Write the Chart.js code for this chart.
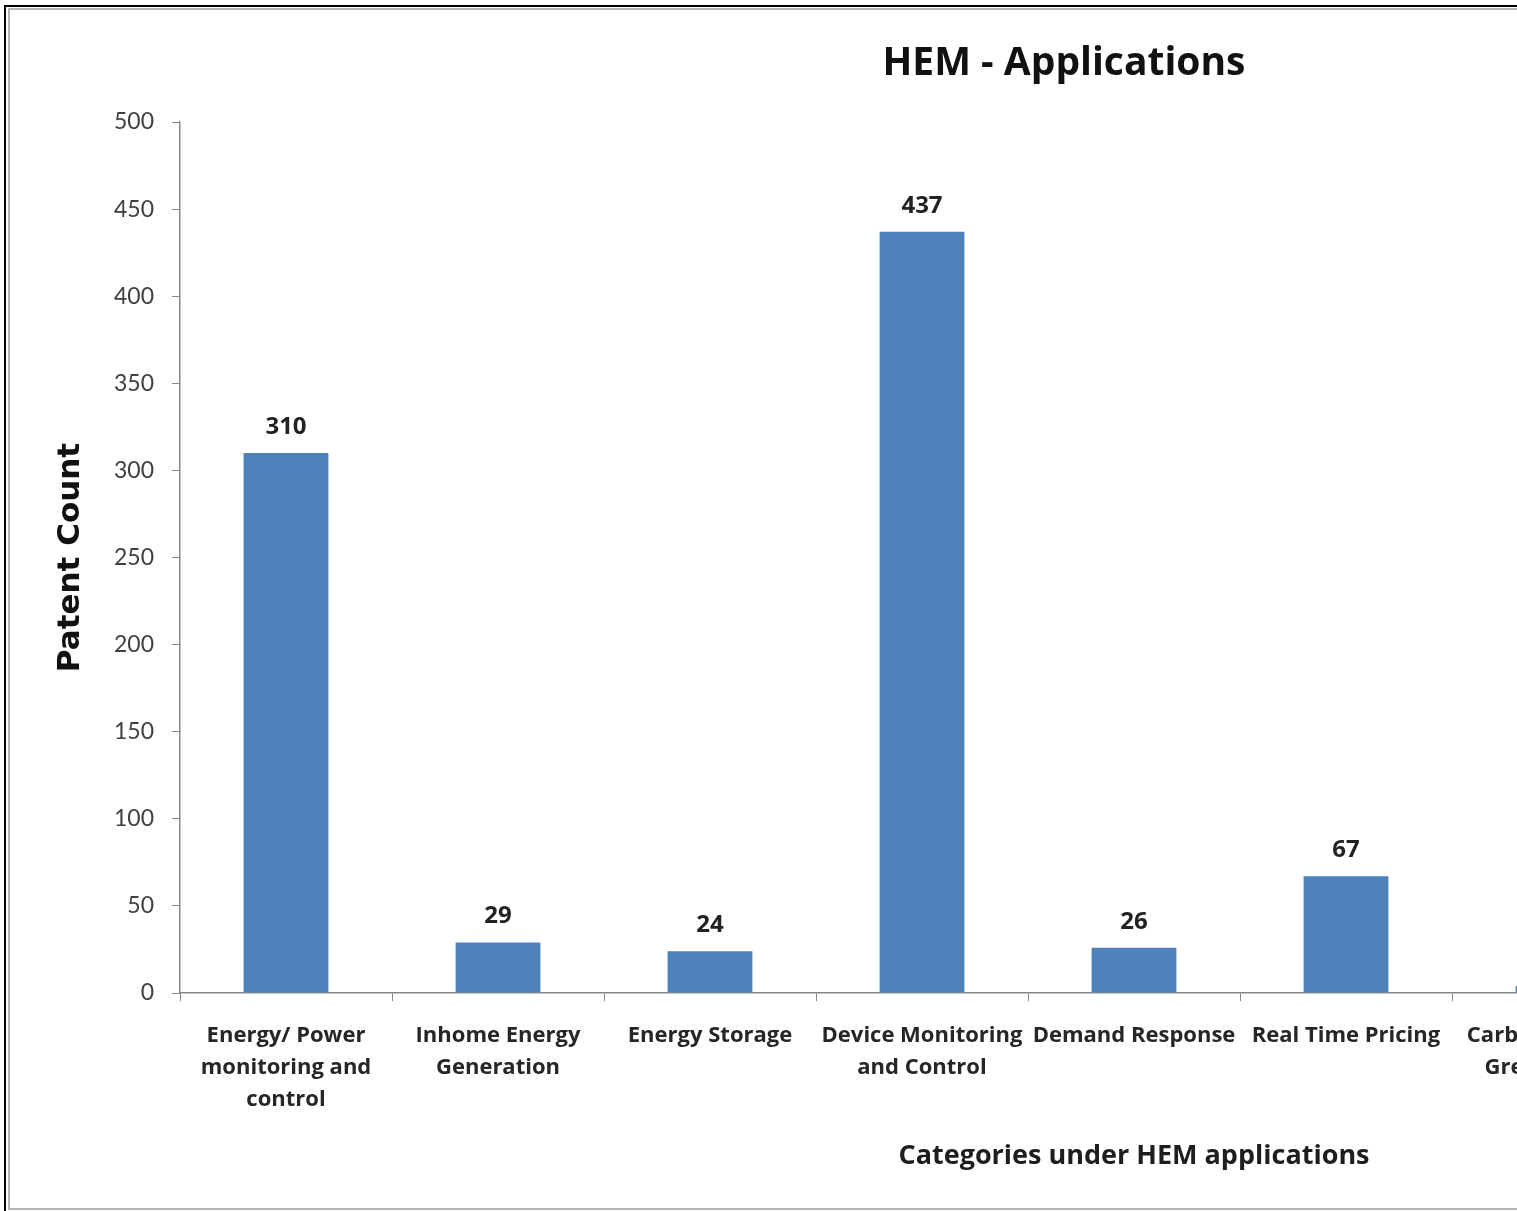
<!DOCTYPE html>
<html><head><meta charset="utf-8">
<script src="https://cdn.jsdelivr.net/npm/chart.js@4.4.1/dist/chart.umd.min.js"></script>
<style>
html,body{margin:0;padding:0;background:#fff;overflow:hidden;width:1517px;height:1211px;}
#wrap{position:absolute;left:0;top:0;width:1517px;height:1211px;overflow:hidden;background:#fff;}
#outer{position:absolute;left:4px;top:5px;width:3000px;height:3000px;border-left:2px solid #000;border-top:2px solid #000;}
#inner{position:absolute;left:8px;top:8px;width:3000px;height:1198px;border:2px solid #b4b4b4;border-right:none;}
canvas{position:absolute;left:0;top:0;}
</style></head>
<body><div id="wrap"><div id="outer"></div><div id="inner"></div><canvas id="c" width="2124" height="1211"></canvas></div>
<script>
// Categories (the chart is cropped on the right; the 7th is only partly visible,
// and two further category slots lie entirely outside the picture)
const categories = [
  ["Energy/ Power", "monitoring and", "control"],
  ["Inhome Energy", "Generation"],
  "Energy Storage",
  ["Device Monitoring", "and Control"],
  "Demand Response",
  "Real Time Pricing",
  ["Carbon Emission", "Green Energy"],
  "",
  ""
];
const patentCounts = [310, 29, 24, 437, 26, 67, 4, null, null];
const yMin = 0, yMax = 500, yStep = 50;
const chartTitle = "HEM - Applications";
const xTitle = "Categories under HEM applications";
const yTitle = "Patent Count";

const valueLabels = {
  id: 'valueLabels',
  afterDatasetsDraw(chart) {
    const ctx = chart.ctx;
    const meta = chart.getDatasetMeta(0);
    const data = chart.data.datasets[0].data;
    ctx.save();
    ctx.font = 'bold 24px "Open Sans"';
    ctx.fillStyle = '#222';
    ctx.textAlign = 'center';
    ctx.textBaseline = 'middle';
    meta.data.forEach((bar, i) => {
      const v = data[i];
      if (v === null || v === undefined) return;
      ctx.fillText(String(v), bar.x, bar.y - 26);
    });
    ctx.restore();
  }
};

new Chart(document.getElementById('c'), {
  type: 'bar',
  data: {
    labels: categories,
    datasets: [{
      data: patentCounts,
      backgroundColor: '#4F81BD',
      borderWidth: 0,
      barPercentage: 0.4,
      categoryPercentage: 1.0
    }]
  },
  plugins: [valueLabels],
  options: {
    responsive: false,
    animation: false,
    devicePixelRatio: 1,
    layout: { padding: { left: 40, right: 36, top: 0, bottom: 0 } },
    plugins: {
      legend: { display: false },
      tooltip: { enabled: false },
      title: {
        display: true,
        text: chartTitle,
        color: '#111',
        font: { family: 'Open Sans', size: 39, weight: 'bold' },
        padding: { top: 40.6, bottom: 34.6 }
      }
    },
    scales: {
      x: {
        offset: true,
        grid: { display: true, drawOnChartArea: false, drawTicks: true, tickLength: 8, color: '#868686', offset: true },
        border: { color: '#868686', width: 1.5 },
        ticks: {
          font: { family: 'Open Sans', size: 22, weight: 'bold', lineHeight: 1.4545 },
          color: '#262626',
          padding: 19,
          maxRotation: 0,
          minRotation: 0,
          autoSkip: false
        },
        title: {
          display: true,
          text: xTitle,
          color: '#1e1e1e',
          font: { family: 'Open Sans', size: 27, weight: 'bold' },
          padding: { top: 0, bottom: 38 }
        },
        afterFit(s) { s.height = 218; }
      },
      y: {
        min: yMin,
        max: yMax,
        grid: { display: true, drawOnChartArea: false, drawTicks: true, tickLength: 8, color: '#868686' },
        border: { color: '#868686', width: 1.5 },
        ticks: {
          stepSize: yStep,
          font: { family: 'Lato', size: 23 },
          color: '#404040',
          padding: 18
        },
        title: {
          display: true,
          text: yTitle,
          color: '#111',
          font: { family: 'DejaVu Sans', size: 31, weight: 'bold' },
          padding: { top: 12, bottom: 0 }
        },
        afterFit(s) { s.width = 140; }
      }
    }
  }
});
</script>
</body></html>
